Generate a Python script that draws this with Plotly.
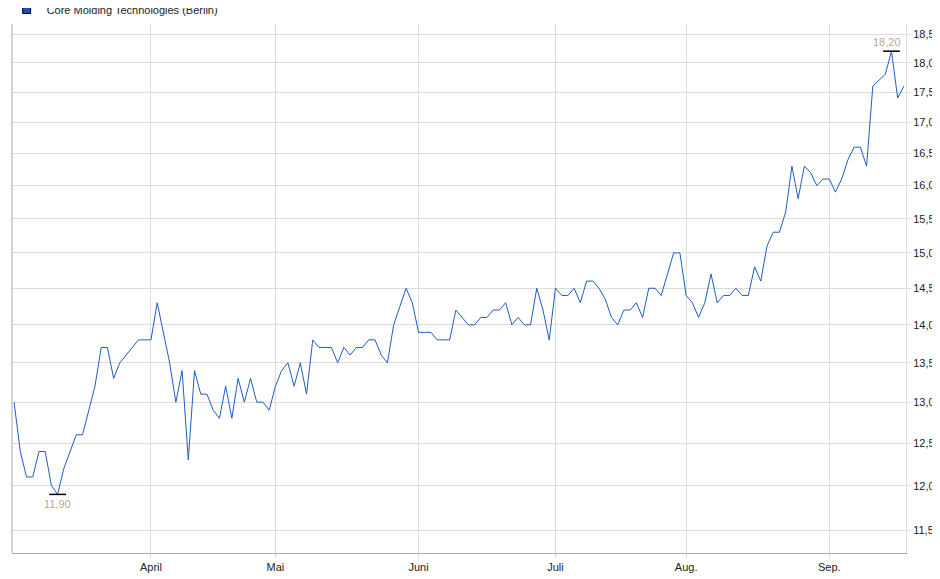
import plotly.graph_objects as go
import pandas as pd
import math

# closing prices per trading day
prices = [
    13.0, 12.4, 12.1, 12.1, 12.4, 12.4, 12.0, 11.9, 12.2, 12.4,
    12.6, 12.6, 12.9, 13.2, 13.7, 13.7, 13.3, 13.5, 13.6, 13.7,
    13.8, 13.8, 13.8, 14.3, 13.9, 13.5, 13.0, 13.4, 12.3, 13.4,
    13.1, 13.1, 12.9, 12.8, 13.2, 12.8, 13.3, 13.0, 13.3, 13.0,
    13.0, 12.9, 13.2, 13.4, 13.5, 13.2, 13.5, 13.1, 13.8, 13.7,
    13.7, 13.7, 13.5, 13.7, 13.6, 13.7, 13.7, 13.8, 13.8, 13.6,
    13.5, 14.0, 14.25, 14.5, 14.3, 13.9, 13.9, 13.9, 13.8, 13.8,
    13.8, 14.2, 14.1, 14.0, 14.0, 14.1, 14.1, 14.2, 14.2, 14.3,
    14.0, 14.1, 14.0, 14.0, 14.5, 14.2, 13.8, 14.5, 14.4, 14.4,
    14.5, 14.3, 14.6, 14.6, 14.5, 14.35, 14.1, 14.0, 14.2, 14.2,
    14.3, 14.1, 14.5, 14.5, 14.4, 14.7, 15.0, 15.0, 14.4, 14.3,
    14.1, 14.3, 14.7, 14.3, 14.4, 14.4, 14.5, 14.4, 14.4, 14.8,
    14.6, 15.1, 15.3, 15.3, 15.6, 16.3, 15.8, 16.3, 16.2, 16.0,
    16.1, 16.1, 15.9, 16.1, 16.4, 16.6, 16.6, 16.3, 17.6, 17.7,
    17.8, 18.2, 17.4, 17.6,
]
start_date = "2023-03-02"
month_names = ["April", "Mai", "Juni", "Juli", "Aug.", "Sep."]
y_ticks = [11.5, 12.0, 12.5, 13.0, 13.5, 14.0, 14.5, 15.0, 15.5, 16.0, 16.5, 17.0, 17.5, 18.0, 18.5]

dates = pd.bdate_range(start=start_date, periods=len(prices))
df = pd.DataFrame({"date": dates, "close": prices})

# first trading day of each month after the start month
firsts = df.groupby(df["date"].dt.to_period("M"))["date"].min().iloc[1:]

i_max = df["close"].idxmax()
i_min = df["close"].idxmin()

line_color = "#1f5cc4"
label_color = "#b8a890"

fig = go.Figure()
fig.add_trace(go.Scatter(
    x=df["date"], y=df["close"], mode="lines",
    line=dict(color=line_color, width=1),
    showlegend=False, hoverinfo="skip",
))
# legend entry: blue square with black border
fig.add_trace(go.Scatter(
    x=[None], y=[None], mode="markers",
    marker=dict(symbol="square", size=8, color="#1a4fb0", line=dict(color="black", width=1)),
    name="Core Molding Technologies (Berlin)",
))
# min / max markers
fig.add_trace(go.Scatter(
    x=[df["date"][i_max], df["date"][i_min]],
    y=[df["close"][i_max], df["close"][i_min]],
    mode="markers",
    marker=dict(symbol="line-ew", size=12, line=dict(color="black", width=1.5)),
    showlegend=False, hoverinfo="skip",
))
fig.add_annotation(x=df["date"][i_max], y=math.log10(df["close"][i_max]),
                   text="18,20", showarrow=False, yshift=9, xshift=-4,
                   font=dict(color=label_color, size=11))
fig.add_annotation(x=df["date"][i_min], y=math.log10(df["close"][i_min]),
                   text="11,90", showarrow=False, yshift=-10,
                   font=dict(color=label_color, size=11))

grid = "#dcdcdc"
fig.update_layout(
    width=940, height=579,
    margin=dict(l=4, r=42, t=16, b=34, autoexpand=False),
    paper_bgcolor="white", plot_bgcolor="white",
    separators=",.",
    font=dict(family="Liberation Sans, Arial, sans-serif", size=11, color="#222"),
    showlegend=True,
    legend=dict(x=-0.006, y=1.0, xanchor="left", yanchor="bottom",
                font=dict(size=11), itemwidth=30, tracegroupgap=0,
                bgcolor="rgba(0,0,0,0)", borderwidth=0),
)
fig.update_xaxes(
    type="date", automargin=False,
    rangebreaks=[dict(bounds=["sat", "mon"])],
    tickvals=list(firsts), ticktext=month_names[:len(firsts)],
    showgrid=True, gridcolor=grid, gridwidth=1,
    showline=True, linecolor="#aaa", mirror=False,
    ticks="outside", ticklen=4, tickcolor=grid,
    range=[df["date"].iloc[0] - pd.Timedelta(hours=8), df["date"].iloc[-1] + pd.Timedelta(hours=8)],
    zeroline=False,
)
fig.update_yaxes(
    type="log", side="right", automargin=False,
    range=[math.log10(11.25), math.log10(18.68)],
    tickvals=y_ticks, ticktext=[f"{v:.1f}".replace(".", ",") for v in y_ticks],
    showgrid=True, gridcolor=grid, gridwidth=1,
    ticks="outside", ticklen=4, tickcolor=grid,
    showline=True, linecolor=grid, zeroline=False,
)
fig.add_shape(type="line", xref="paper", yref="paper", x0=0, x1=0, y0=0, y1=1,
              line=dict(color="#aaa", width=1))

fig.write_html("out.html")
